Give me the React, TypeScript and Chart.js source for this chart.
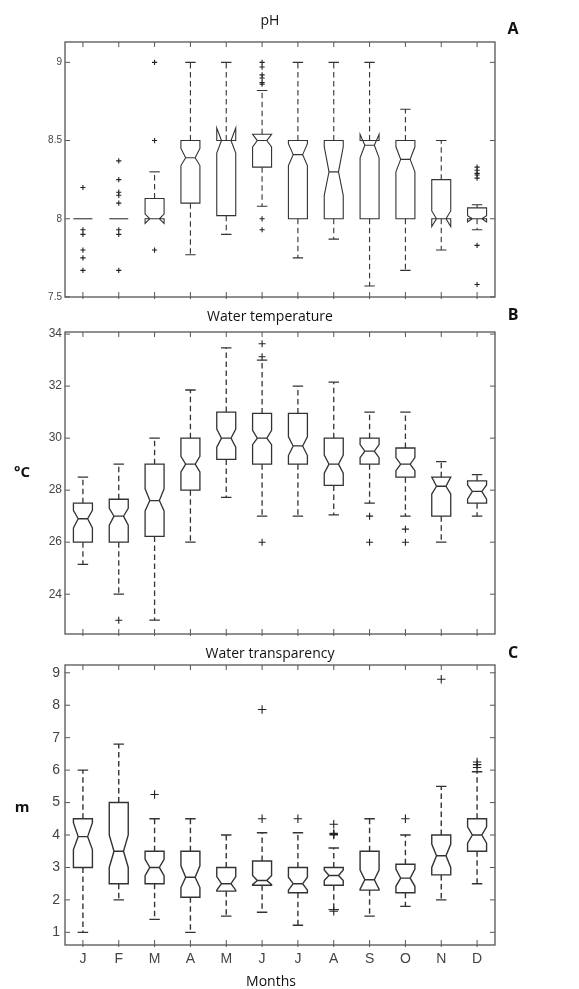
import React, { useEffect, useRef } from "react";
import { Chart, registerables } from "chart.js";

Chart.register(...registerables);

// ---------- categories ----------
const months = ["J", "F", "M", "A", "M", "J", "J", "A", "S", "O", "N", "D"];

// ---------- pH ----------
const phTicks = [7.5, 8, 8.5, 9];
const phMedian = [8, 8, 8, 8.39, 8.5, 8.5, 8.41, 8.3, 8.47, 8.38, 8.0, 8.0];
const phQ1 = [8, 8, 8, 8.1, 8.02, 8.33, 8, 8, 8, 8, 8, 8];
const phQ3 = [8, 8, 8.13, 8.5, 8.5, 8.54, 8.5, 8.5, 8.5, 8.5, 8.25, 8.07];
const phNotchLo = [null, null, 7.97, 8.34, 8.42, 8.46, 8.34, 8.15, 8.39, 8.3, 7.95, 7.98];
const phNotchHi = [null, null, 8.03, 8.45, 8.58, 8.54, 8.48, 8.46, 8.54, 8.46, 8.05, 8.02];
const phWhiskLo = [8, 8, 8, 7.77, 7.9, 8.08, 7.75, 7.87, 7.57, 7.67, 7.8, 7.93];
const phWhiskHi = [8, 8, 8.3, 9, 9, 8.82, 9, 9, 9, 8.7, 8.5, 8.09];
const phOutliers = [
  [8.2, 7.93, 7.9, 7.8, 7.75, 7.67],
  [8.37, 8.25, 8.17, 8.15, 8.1, 7.93, 7.9, 7.67],
  [9, 8.5, 7.8],
  [],
  [],
  [9, 8.97, 8.92, 8.9, 8.87, 8.86, 8, 7.93],
  [],
  [],
  [],
  [],
  [],
  [8.33, 8.31, 8.29, 8.28, 8.26, 7.83, 7.58],
];

// ---------- Water temperature ----------
const tempTicks = [24, 26, 28, 30, 32, 34];
const tempMedian = [26.9, 27.0, 27.6, 29.0, 30.0, 30.0, 29.7, 29.0, 29.5, 29.0, 28.15, 27.95];
const tempQ1 = [26, 26, 26.22, 28, 29.18, 29, 29, 28.18, 29, 28.5, 27, 27.5];
const tempQ3 = [27.5, 27.65, 29, 30, 31, 30.95, 30.95, 30, 30, 29.62, 28.5, 28.36];
const tempNotchLo = [26.55, 26.65, 27.2, 28.7, 29.65, 29.75, 29.33, 28.65, 29.25, 28.75, 27.85, 27.65];
const tempNotchHi = [27.22, 27.3, 28.05, 29.3, 30.35, 30.3, 30.05, 29.35, 29.75, 29.25, 28.5, 28.2];
const tempWhiskLo = [25.15, 24, 23, 26, 27.72, 27, 27, 27.05, 27.5, 27, 26, 27];
const tempWhiskHi = [28.5, 29, 30, 31.85, 33.47, 33.0, 32, 32.15, 31, 31, 29.1, 28.6];
const tempOutliers = [[], [23], [], [], [], [33.63, 33.13, 26], [], [], [27, 26], [26.5, 26], [], []];

// ---------- Water transparency ----------
const transTicks = [1, 2, 3, 4, 5, 6, 7, 8, 9];
const transMedian = [3.95, 3.5, 3.0, 2.7, 2.5, 2.6, 2.5, 2.75, 2.62, 2.67, 3.36, 4.0];
const transQ1 = [3.0, 2.5, 2.5, 2.08, 2.27, 2.45, 2.22, 2.45, 2.3, 2.22, 2.77, 3.5];
const transQ3 = [4.5, 5.0, 3.5, 3.5, 3.0, 3.2, 3.0, 3.0, 3.5, 3.1, 4.0, 4.5];
const transNotchLo = [3.55, 3.0, 2.75, 2.38, 2.3, 2.47, 2.3, 2.6, 2.33, 2.42, 3.0, 3.75];
const transNotchHi = [4.38, 4.0, 3.25, 3.05, 2.72, 2.75, 2.7, 2.92, 2.92, 2.95, 3.72, 4.25];
const transWhiskLo = [1.0, 2.0, 1.4, 1.0, 1.5, 1.62, 1.22, 1.7, 1.5, 1.8, 2.0, 2.5];
const transWhiskHi = [6.0, 6.8, 4.5, 4.5, 4.0, 4.07, 4.07, 3.6, 4.5, 4.0, 5.5, 5.95];
const transOutliers = [
  [],
  [],
  [5.25],
  [],
  [],
  [7.87, 4.5],
  [4.5],
  [4.33, 4.05, 4.02, 4.0, 1.65],
  [],
  [4.5],
  [8.8],
  [6.25, 6.17, 6.08],
];

type Panel = {
  key: string;
  top: number;
  height: number;
  padTop: number;
  padBottom: number;
  yMin: number;
  yMax: number;
  ticks: number[];
  median: number[];
  q1: number[];
  q3: number[];
  notchLo: (number | null)[];
  notchHi: (number | null)[];
  whiskLo: number[];
  whiskHi: number[];
  outliers: number[][];
  title: string;
  titleY: number;
  letter: string;
  letterY: number;
  ylabel?: string;
  ylabelY?: number;
  xTitle?: string;
  xTitleY?: number;
  showX: boolean;
  tickFont: number;
  tickFamily: string;
  crossR: number;
  lw: number;
};

const panels: Panel[] = [
  {
    key: "A", top: 0, height: 312, padTop: 42, padBottom: 15,
    yMin: 7.5, yMax: 9.13, ticks: phTicks,
    median: phMedian, q1: phQ1, q3: phQ3, notchLo: phNotchLo, notchHi: phNotchHi,
    whiskLo: phWhiskLo, whiskHi: phWhiskHi, outliers: phOutliers,
    title: "pH", titleY: 21, letter: "A", letterY: 29,
    showX: false, tickFont: 10, tickFamily: "'Liberation Sans', Arial, sans-serif", crossR: 2.6, lw: 1.1,
  },
  {
    key: "B", top: 302, height: 346, padTop: 30, padBottom: 14,
    yMin: 22.47, yMax: 34.08, ticks: tempTicks,
    median: tempMedian, q1: tempQ1, q3: tempQ3, notchLo: tempNotchLo, notchHi: tempNotchHi,
    whiskLo: tempWhiskLo, whiskHi: tempWhiskHi, outliers: tempOutliers,
    title: "Water temperature", titleY: 317, letter: "B", letterY: 315,
    ylabel: "°C", ylabelY: 473,
    showX: false, tickFont: 12, tickFamily: "'Liberation Sans', Arial, sans-serif", crossR: 3.5, lw: 1.3,
  },
  {
    key: "C", top: 640, height: 349, padTop: 25, padBottom: 0,
    yMin: 0.61, yMax: 9.24, ticks: transTicks,
    median: transMedian, q1: transQ1, q3: transQ3, notchLo: transNotchLo, notchHi: transNotchHi,
    whiskLo: transWhiskLo, whiskHi: transWhiskHi, outliers: transOutliers,
    title: "Water transparency", titleY: 654, letter: "C", letterY: 653,
    ylabel: "m", ylabelY: 808, xTitle: "Months", xTitleY: 982,
    showX: true, tickFont: 14, tickFamily: "'Liberation Sans Narrow', 'Liberation Sans', Arial, sans-serif", crossR: 4.2, lw: 1.4,
  },
];

function makePlugin(p: Panel) {
  return {
    id: "notchBox" + p.key,
    beforeDatasetsDraw(chart: any) {
      const ctx = chart.ctx as CanvasRenderingContext2D;
      const x = chart.scales.x;
      const y = chart.scales.y;
      const step = x.getPixelForValue(1) - x.getPixelForValue(0);
      const hw = step * 0.265;
      const nw = hw * 0.5;
      const cw = hw * 0.55;
      const Y = (v: number) => y.getPixelForValue(v);
      ctx.save();
      ctx.strokeStyle = "#333";
      ctx.lineWidth = p.lw;
      ctx.lineJoin = "miter";
      for (let i = 0; i < months.length; i++) {
        const cx = x.getPixelForValue(i);
        const L = cx - hw;
        const R = cx + hw;
        // whiskers (dashed)
        ctx.setLineDash([5.5, 3.5]);
        ctx.beginPath();
        if (p.whiskHi[i] > p.q3[i]) {
          ctx.moveTo(cx, Y(p.q3[i]));
          ctx.lineTo(cx, Y(p.whiskHi[i]));
        }
        if (p.whiskLo[i] < p.q1[i]) {
          ctx.moveTo(cx, Y(p.q1[i]));
          ctx.lineTo(cx, Y(p.whiskLo[i]));
        }
        ctx.stroke();
        ctx.setLineDash([]);
        // caps
        ctx.beginPath();
        if (p.whiskHi[i] > p.q3[i]) {
          ctx.moveTo(cx - cw, Y(p.whiskHi[i]));
          ctx.lineTo(cx + cw, Y(p.whiskHi[i]));
        }
        if (p.whiskLo[i] < p.q1[i]) {
          ctx.moveTo(cx - cw, Y(p.whiskLo[i]));
          ctx.lineTo(cx + cw, Y(p.whiskLo[i]));
        }
        ctx.stroke();
        // box
        const nLo = p.notchLo[i];
        const nHi = p.notchHi[i];
        ctx.beginPath();
        if (nLo === null || nHi === null) {
          if (p.q3[i] > p.q1[i]) {
            ctx.rect(L, Y(p.q3[i]), 2 * hw, Y(p.q1[i]) - Y(p.q3[i]));
          }
          ctx.moveTo(L, Y(p.median[i]));
          ctx.lineTo(R, Y(p.median[i]));
        } else {
          const m = Y(p.median[i]);
          ctx.moveTo(L, Y(p.q1[i]));
          ctx.lineTo(L, Y(nLo));
          ctx.lineTo(L + nw, m);
          ctx.lineTo(L, Y(nHi));
          ctx.lineTo(L, Y(p.q3[i]));
          ctx.lineTo(R, Y(p.q3[i]));
          ctx.lineTo(R, Y(nHi));
          ctx.lineTo(R - nw, m);
          ctx.lineTo(R, Y(nLo));
          ctx.lineTo(R, Y(p.q1[i]));
          ctx.closePath();
          ctx.moveTo(L + nw, m);
          ctx.lineTo(R - nw, m);
        }
        ctx.stroke();
      }
      ctx.restore();
    },
    afterDraw(chart: any) {
      const ctx = chart.ctx as CanvasRenderingContext2D;
      const a = chart.chartArea;
      const x = chart.scales.x;
      const y = chart.scales.y;
      ctx.save();
      ctx.strokeStyle = "#555";
      ctx.lineWidth = 1.3;
      ctx.strokeRect(a.left, a.top, a.right - a.left, a.bottom - a.top);
      ctx.lineWidth = 1;
      ctx.beginPath();
      const tl = 5;
      y.ticks.forEach((t: any) => {
        const py = y.getPixelForValue(t.value);
        ctx.moveTo(a.left, py);
        ctx.lineTo(a.left + tl, py);
        ctx.moveTo(a.right, py);
        ctx.lineTo(a.right - tl, py);
      });
      x.ticks.forEach((t: any) => {
        const px = x.getPixelForValue(t.value);
        ctx.moveTo(px, a.bottom + 2);
        ctx.lineTo(px, a.bottom - tl);
        ctx.moveTo(px, a.top);
        ctx.lineTo(px, a.top + tl);
      });
      ctx.stroke();
      // texts
      ctx.fillStyle = "#111";
      ctx.textAlign = "center";
      ctx.textBaseline = "middle";
      ctx.font = "14px 'Open Sans', sans-serif";
      ctx.fillText(p.title, 270, p.titleY - p.top);
      ctx.font = "bold 16px 'Open Sans', sans-serif";
      ctx.fillText(p.letter, 513, p.letterY - p.top);
      if (p.ylabel && p.ylabelY !== undefined) {
        ctx.font = "bold 15px 'Open Sans', sans-serif";
        ctx.fillText(p.ylabel, 22, p.ylabelY - p.top);
      }
      if (p.xTitle && p.xTitleY !== undefined) {
        ctx.font = "14px 'Open Sans', sans-serif";
        ctx.fillText(p.xTitle, 271, p.xTitleY - p.top);
      }
      ctx.restore();
    },
  };
}

function PanelChart({ p }: { p: Panel }) {
  const ref = useRef<HTMLCanvasElement | null>(null);
  useEffect(() => {
    if (!ref.current) return;
    const pts: { x: number; y: number }[] = [];
    p.outliers.forEach((arr, i) => arr.forEach((v) => pts.push({ x: i, y: v })));
    const chart = new Chart(ref.current, {
      type: "scatter",
      data: {
        datasets: [
          {
            label: "outliers",
            data: pts,
            pointStyle: "cross",
            pointRadius: p.crossR,
            pointBorderColor: "#222",
            pointBorderWidth: 1.1,
            showLine: false,
          } as any,
        ],
      },
      options: {
        animation: false,
        responsive: false,
        maintainAspectRatio: false,
        events: [],
        layout: { padding: { left: 0, right: 84, top: p.padTop, bottom: p.padBottom } },
        plugins: { legend: { display: false }, tooltip: { enabled: false }, title: { display: false } },
        scales: {
          x: {
            type: "linear",
            min: -0.5,
            max: 11.5,
            display: p.showX,
            afterBuildTicks: (s: any) => {
              s.ticks = months.map((_, i) => ({ value: i }));
            },
            afterFit: (s: any) => {
              if (p.showX) s.height = 44;
            },
            grid: { display: false, drawTicks: false },
            border: { display: false },
            ticks: {
              autoSkip: false,
              maxRotation: 0,
              padding: 6,
              color: "#444",
              font: { size: 14, family: "'Liberation Sans', Arial, sans-serif" },
              callback: (v: any) => months[Math.round(v)] ?? "",
            },
          },
          y: {
            type: "linear",
            min: p.yMin,
            max: p.yMax,
            afterBuildTicks: (s: any) => {
              s.ticks = p.ticks.map((v) => ({ value: v }));
            },
            afterFit: (s: any) => {
              s.width = 65;
            },
            grid: { display: false, drawTicks: false },
            border: { display: false },
            ticks: {
              autoSkip: false,
              padding: p.key === "C" ? 5 : 3,
              color: "#444",
              font: { size: p.tickFont, family: p.tickFamily },
              callback: (v: any) => String(v),
            },
          },
        },
      },
      plugins: [makePlugin(p)],
    });
    return () => chart.destroy();
  }, [p]);
  return (
    <canvas
      ref={ref}
      width={579}
      height={p.height}
      style={{ position: "absolute", left: 0, top: p.top, width: 579, height: p.height }}
    />
  );
}

export default function App() {
  return (
    <div style={{ position: "absolute", left: 0, top: 0, width: 579, height: 989, background: "#fff" }}>
      {panels.map((p) => (
        <PanelChart key={p.key} p={p} />
      ))}
    </div>
  );
}
